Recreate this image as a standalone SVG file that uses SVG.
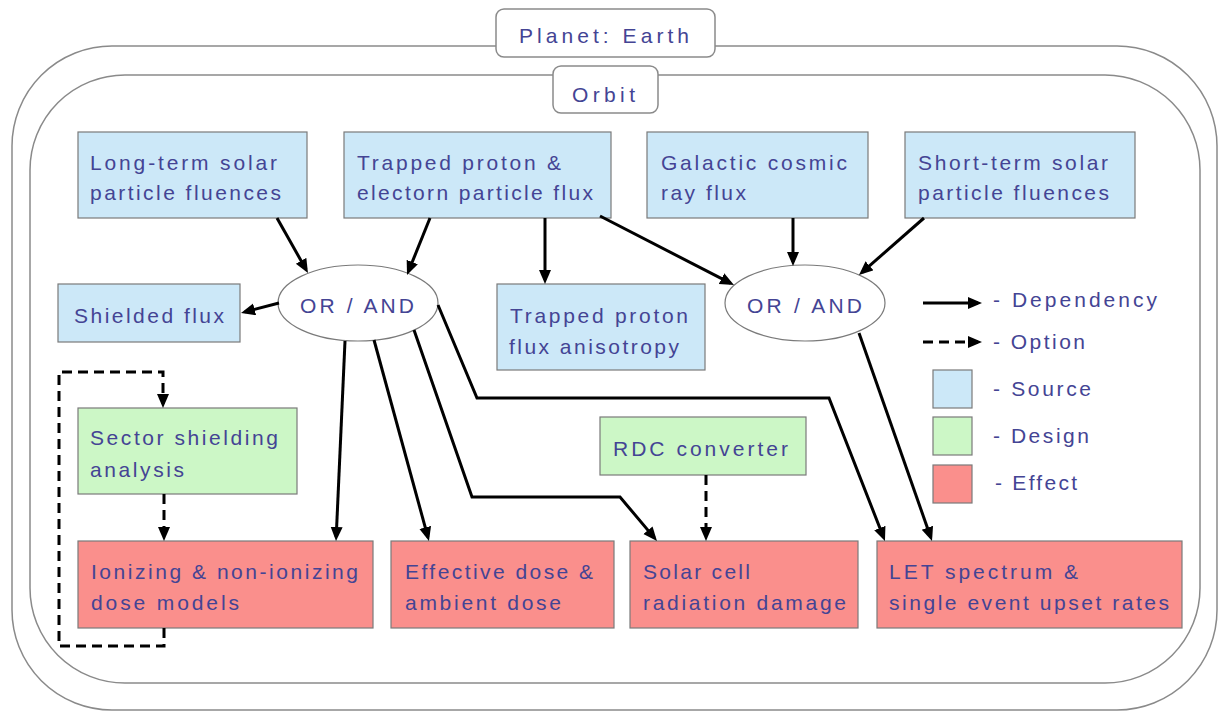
<svg xmlns="http://www.w3.org/2000/svg" width="1220" height="711" viewBox="0 0 1220 711">
<style>
.frame{fill:none;stroke:#8a8a8a;stroke-width:1.5}
.tag{fill:#fff;stroke:#8a8a8a;stroke-width:1.5}
.src{fill:#cce8f8;stroke:#7a7a7a;stroke-width:1.2}
.des{fill:#ccf7c6;stroke:#7a7a7a;stroke-width:1.2}
.eff{fill:#fa8f8c;stroke:#7a7a7a;stroke-width:1.2}
.gate{fill:#fff;stroke:#7a7a7a;stroke-width:1.2}
text{font-family:"Liberation Sans",Arial,sans-serif;font-size:21px;fill:#444494}
.dep{fill:none;stroke:#000;stroke-width:3;marker-end:url(#ah)}
.opt{fill:none;stroke:#000;stroke-width:3;stroke-dasharray:10 6;marker-end:url(#ah)}
</style>
<defs>
<marker id="ah" markerUnits="userSpaceOnUse" markerWidth="15" markerHeight="13" refX="10" refY="6" orient="auto">
<path d="M0,0 L14,6 L0,12 z" fill="#000"/>
</marker>
</defs>
<rect width="1220" height="711" fill="#fff"/>
<g id="planet">
<rect class="frame" x="12" y="46" width="1205" height="664" rx="100" ry="100"/>
<rect class="tag" x="496" y="9" width="219" height="48" rx="8"/>
<text x="519" y="43" textLength="170" lengthAdjust="spacing">Planet: Earth</text>
</g>
<g id="orbit">
<rect class="frame" x="30" y="75" width="1170" height="608" rx="95" ry="95"/>
<rect class="tag" x="553" y="66" width="105" height="47" rx="8"/>
<text x="572" y="102" textLength="63" lengthAdjust="spacing">Orbit</text>
</g>
<g id="longterm">
<rect class="src" x="78" y="132" width="229" height="86"/>
<text x="90" y="170" textLength="187" lengthAdjust="spacing">Long-term solar</text>
<text x="90" y="200" textLength="191" lengthAdjust="spacing">particle fluences</text>
</g>
<g id="trapped">
<rect class="src" x="344" y="132" width="267" height="86"/>
<text x="357" y="170" textLength="204" lengthAdjust="spacing">Trapped proton &amp;</text>
<text x="357" y="200" textLength="236" lengthAdjust="spacing">electorn particle flux</text>
</g>
<g id="galactic">
<rect class="src" x="647" y="132" width="221" height="86"/>
<text x="661" y="170" textLength="186" lengthAdjust="spacing">Galactic cosmic</text>
<text x="661" y="200" textLength="85" lengthAdjust="spacing">ray flux</text>
</g>
<g id="shortterm">
<rect class="src" x="905" y="132" width="230" height="86"/>
<text x="918" y="170" textLength="190" lengthAdjust="spacing">Short-term solar</text>
<text x="918" y="200" textLength="191" lengthAdjust="spacing">particle fluences</text>
</g>
<g id="shielded">
<rect class="src" x="58" y="284" width="182" height="58"/>
<text x="74" y="323" textLength="150" lengthAdjust="spacing">Shielded flux</text>
</g>
<g id="gate1">
<ellipse class="gate" cx="358" cy="303" rx="80" ry="38"/>
<text x="300" y="313" textLength="114" lengthAdjust="spacing">OR / AND</text>
</g>
<g id="anisotropy">
<rect class="src" x="497" y="284" width="208" height="86"/>
<text x="510" y="323" textLength="178" lengthAdjust="spacing">Trapped proton</text>
<text x="509" y="354" textLength="170" lengthAdjust="spacing">flux anisotropy</text>
</g>
<g id="gate2">
<ellipse class="gate" cx="805" cy="303" rx="80" ry="38"/>
<text x="747" y="313" textLength="115" lengthAdjust="spacing">OR / AND</text>
</g>
<g id="sector">
<rect class="des" x="78" y="408" width="219" height="86"/>
<text x="90" y="445" textLength="188" lengthAdjust="spacing">Sector shielding</text>
<text x="90" y="477" textLength="94" lengthAdjust="spacing">analysis</text>
</g>
<g id="rdc">
<rect class="des" x="600" y="417" width="206" height="58"/>
<text x="613" y="456" textLength="175" lengthAdjust="spacing">RDC converter</text>
</g>
<g id="ionizing">
<rect class="eff" x="78" y="541" width="295" height="87"/>
<text x="91" y="579" textLength="267" lengthAdjust="spacing">Ionizing &amp; non-ionizing</text>
<text x="91" y="610" textLength="148" lengthAdjust="spacing">dose models</text>
</g>
<g id="effective">
<rect class="eff" x="391" y="541" width="223" height="87"/>
<text x="405" y="579" textLength="188" lengthAdjust="spacing">Effective dose &amp;</text>
<text x="405" y="610" textLength="156" lengthAdjust="spacing">ambient dose</text>
</g>
<g id="solarcell">
<rect class="eff" x="630" y="541" width="228" height="87"/>
<text x="643" y="579" textLength="107" lengthAdjust="spacing">Solar cell</text>
<text x="643" y="610" textLength="203" lengthAdjust="spacing">radiation damage</text>
</g>
<g id="let">
<rect class="eff" x="877" y="541" width="305" height="87"/>
<text x="889" y="579" textLength="189" lengthAdjust="spacing">LET spectrum &amp;</text>
<text x="889" y="610" textLength="280" lengthAdjust="spacing">single event upset rates</text>
</g>
<g id="legend">
<rect class="src" x="933" y="370" width="39" height="38"/>
<rect class="des" x="933" y="417" width="39" height="38"/>
<rect class="eff" x="933" y="465" width="39" height="38"/>
<text x="993" y="307" textLength="164" lengthAdjust="spacing">- Dependency</text>
<text x="993" y="349" textLength="92" lengthAdjust="spacing">- Option</text>
<text x="993" y="396" textLength="98" lengthAdjust="spacing">- Source</text>
<text x="993" y="443" textLength="96" lengthAdjust="spacing">- Design</text>
<text x="995" y="490" textLength="82" lengthAdjust="spacing">- Effect</text>
</g>
<g id="connectors">
<path class="dep" d="M277,218 L306,269.5"/>
<path class="dep" d="M430,218 L408.5,271.3"/>
<path class="dep" d="M545,218 L545,280"/>
<path class="dep" d="M600,216 L730.4,283.2"/>
<path class="dep" d="M793,218 L793,262"/>
<path class="dep" d="M924,218 L862,272.4"/>
<path class="dep" d="M279,303 L244.9,311.9"/>
<path class="dep" d="M345,341 L336.2,537"/>
<path class="dep" d="M374,340 L427.9,537.1"/>
<path class="dep" d="M414,330 L472,497 L620,497 L654.4,537.9"/>
<path class="dep" d="M438,305 L477,398 L829,398 L883.5,537.3"/>
<path class="dep" d="M859,333 L930.7,537.2"/>
<path class="opt" d="M706,475 L706,537"/>
<path class="opt" d="M164,494 L164,537"/>
<path class="opt" d="M164,628 L164,646 L59,646 L59,372 L163,372 L163,404"/>
<path class="dep" d="M923,303 L978,303"/>
<path class="opt" d="M923,342 L978,342"/>
</g>
</svg>
